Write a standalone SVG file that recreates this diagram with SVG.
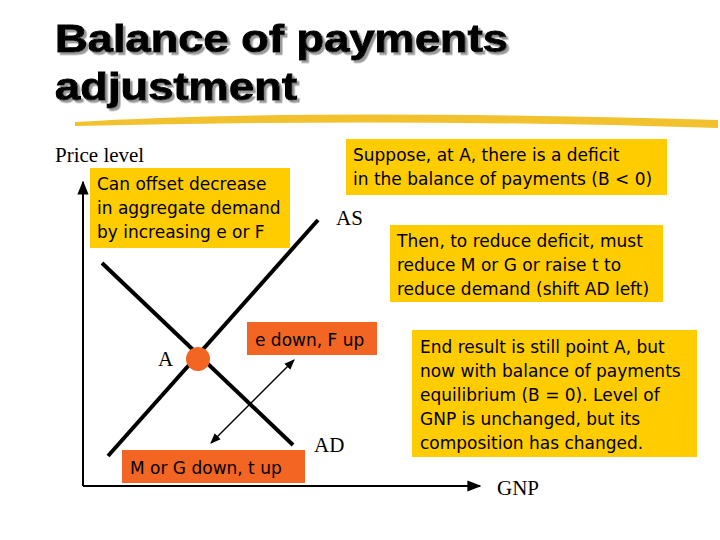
<svg xmlns="http://www.w3.org/2000/svg" width="720" height="540" viewBox="0 0 720 540">
<style>
.t{font-family:"Liberation Sans",Arial,sans-serif;font-weight:900;font-size:39px;fill:#000;stroke:#000;stroke-width:1;filter:url(#sh)}
.s{font-family:"DejaVu Sans",Verdana,sans-serif;font-size:17px;fill:#000}
.r{font-family:"Liberation Serif","Times New Roman",serif;font-size:21px;fill:#000}
.y{fill:#FFCC00}
.o{fill:#F26522}
.ln{stroke:#000;stroke-width:4;fill:none}
</style>
<defs>
<filter id="sh" x="-5%" y="-20%" width="110%" height="140%"><feDropShadow dx="2.5" dy="2.5" stdDeviation="0.5" flood-color="#999"/></filter>
<marker id="ah" viewBox="0 0 10 10" refX="9" refY="5" markerWidth="7" markerHeight="7" orient="auto-start-reverse"><path d="M0,1 L10,5 L0,9 z" fill="#000"/></marker>
</defs>
<rect width="720" height="540" fill="#fff"/>
<g id="title">
<text class="t" x="55" y="52" textLength="453" lengthAdjust="spacingAndGlyphs">Balance of payments</text>
<text class="t" x="55" y="100" textLength="242" lengthAdjust="spacingAndGlyphs">adjustment</text>
<path d="M75,122 Q300,108 718,120 L718,128 Q400,118 75,126 z" fill="#F2C12E"/>
</g>
<g id="connectors">
<line x1="83" y1="486" x2="83" y2="182" stroke="#000" stroke-width="2" marker-end="url(#ah)"/>
<line x1="83" y1="486" x2="480" y2="486" stroke="#000" stroke-width="2" marker-end="url(#ah)"/>
<line class="ln" x1="108" y1="456" x2="318" y2="220"/>
<line class="ln" x1="102" y1="263" x2="293" y2="445"/>
<line x1="211" y1="443" x2="294" y2="360" stroke="#000" stroke-width="1.5" marker-start="url(#ah)" marker-end="url(#ah)"/>
</g>
<g id="pointA"><circle cx="198" cy="359" r="12" class="o"/><text class="r" x="158" y="366">A</text></g>
<g id="labels">
<text class="r" x="55" y="162">Price level</text>
<text class="r" x="336" y="225">AS</text>
<text class="r" x="314" y="452">AD</text>
<text class="r" x="497" y="495">GNP</text>
</g>
<g id="offset"><rect class="y" x="90" y="168" width="200" height="80"/>
<text class="s" x="97" y="190">Can offset decrease</text><text class="s" x="97" y="214">in aggregate demand</text><text class="s" x="97" y="238">by increasing e or F</text></g>
<g id="suppose"><rect class="y" x="346" y="139" width="321" height="56"/>
<text class="s" x="353" y="161">Suppose, at A, there is a deficit</text><text class="s" x="353" y="185">in the balance of payments (B &lt; 0)</text></g>
<g id="then"><rect class="y" x="390" y="225" width="273" height="77"/>
<text class="s" x="397" y="247">Then, to reduce deficit, must</text><text class="s" x="397" y="271">reduce M or G or raise t to</text><text class="s" x="397" y="295">reduce demand (shift AD left)</text></g>
<g id="edown"><rect class="o" x="247" y="322" width="130" height="33"/><text class="s" x="255" y="346">e down, F up</text></g>
<g id="mdown"><rect class="o" x="122" y="450" width="183" height="33"/><text class="s" x="130" y="474">M or G down, t up</text></g>
<g id="end"><rect class="y" x="412" y="330" width="285" height="127"/>
<text class="s" x="420" y="353">End result is still point A, but</text><text class="s" x="420" y="377">now with balance of payments</text><text class="s" x="420" y="401">equilibrium (B = 0). Level of</text><text class="s" x="420" y="425">GNP is unchanged, but its</text><text class="s" x="420" y="449">composition has changed.</text></g>
</svg>
